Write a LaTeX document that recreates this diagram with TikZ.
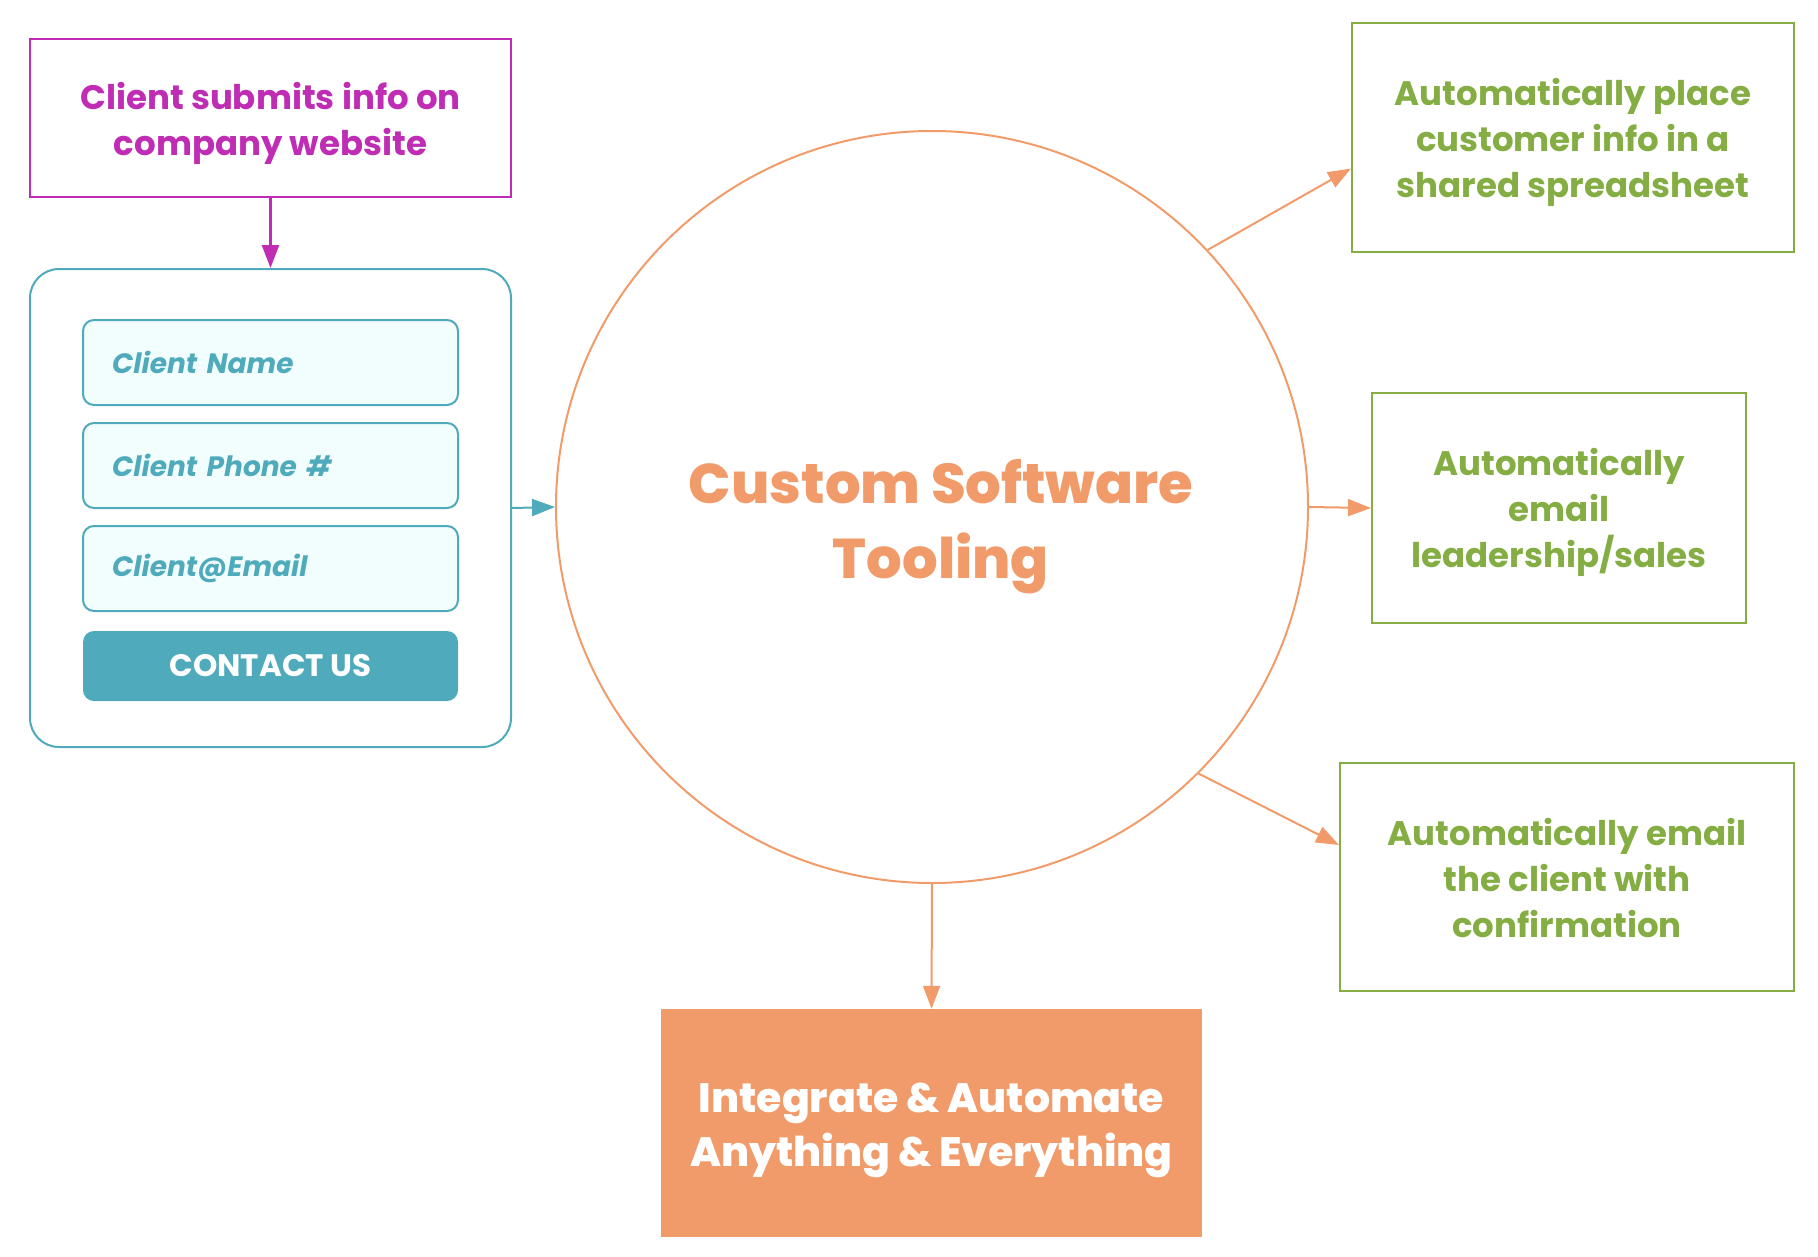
\documentclass[tikz,border=0pt]{standalone}
\usepackage{fontspec}
\setmainfont{Poppins}
\newfontfamily\heavyfont{Poppins}[UprightFont=* ExtraBold]
\usetikzlibrary{arrows.meta,calc}
\definecolor{mag}{HTML}{BF2DB4}
\definecolor{teal}{HTML}{4FAABB}
\definecolor{fieldbg}{HTML}{F2FEFE}
\definecolor{grn}{HTML}{84AE43}
\definecolor{org}{HTML}{F29B6A}
\begin{document}
\begin{tikzpicture}[x=1pt,y=-1pt,
  magbox/.style={draw=mag,line width=2pt},
  magtext/.style={text=mag,align=center,font=\bfseries\fontsize{34}{46}\selectfont},
  formbox/.style={draw=teal,line width=2pt,rounded corners=29pt},
  field/.style={draw=teal,line width=2pt,fill=fieldbg,rounded corners=11pt,minimum width=375pt,minimum height=85pt,
    text width=317pt,inner xsep=29pt,align=left,text=teal,font=\bfseries\itshape\fontsize{28}{30}\selectfont},
  btn/.style={fill=teal,rounded corners=11pt,minimum width=375pt,minimum height=70pt,text=white,font=\bfseries\fontsize{31}{34}\selectfont},
  grnbox/.style={draw=grn,line width=2pt},
  grntext/.style={text=grn,align=center,font=\bfseries\fontsize{34}{46}\selectfont},
  orgbox/.style={fill=org},
  orgtext/.style={text=white,align=center,font=\heavyfont\fontsize{41}{54}\selectfont},
  tipstyle/.style={-{Triangle[length=23pt,width=17pt]}},
  oarrow/.style={draw=org,line width=2pt,tipstyle},
  tarrow/.style={draw=teal,line width=2pt,tipstyle},
  marrow/.style={draw=mag,line width=2.5pt,tipstyle}
]
\useasboundingbox (0,0) rectangle (1818,1256);
\node[magbox,minimum width=481pt,minimum height=158pt,
  label={[magtext,yshift=-5pt]center:Client submits info on\\company website}] (submit) at (270.5,118) {};
\node[formbox,minimum width=481pt,minimum height=478pt] (form) at (270.5,508) {};
\node[field] (fname) at (270.5,362.5) {Client Name};
\node[field] (fphone) at (270.5,465.5) {Client Phone \#};
\node[field,yshift=-2pt,minimum height=85pt] (femail) at (270.5,566.5) {Client@Email};
\node[btn] (contact) at (270.5,666) {CONTACT US};
\node[circle,draw=org,line width=2pt,minimum size=752pt,inner sep=0pt] (tool) at (932,507) {};
\node[text=org,align=center,font=\heavyfont\fontsize{56}{75}\selectfont] (tooltext) at (941,527) {Custom Software\\Tooling};
\node[grnbox,minimum width=442pt,minimum height=229pt,
  label={[grntext,yshift=-5pt]center:Automatically place\\customer info in a\\shared spreadsheet}] (b1) at (1573,137.5) {};
\node[grnbox,minimum width=374pt,minimum height=230pt,
  label={[grntext,yshift=-4pt]center:Automatically\\email\\leadership/sales}] (b2) at (1559,508) {};
\node[grnbox,minimum width=454pt,minimum height=228pt,
  label={[grntext,yshift=-1pt]center:Automatically email\\the client with\\confirmation}] (b3) at (1567,877) {};
\node[orgbox,minimum width=541pt,minimum height=228pt,
  label={[orgtext,yshift=-7pt]center:Integrate \& Automate\\Anything \& Everything}] (b4) at (931.5,1123) {};
\draw[marrow] (submit.south) -- (form.north);
\draw[tarrow] (form.east) -- (tool.west);
\draw[oarrow] (tool.43) -- ($(b1.west)+(0,31)$);
\draw[oarrow] (tool.east) -- (b2.west);
\draw[oarrow] (tool.-45) -- ($(b3.west)+(0,-32)$);
\draw[oarrow] (tool.south) -- (b4.north);
\end{tikzpicture}
\end{document}
